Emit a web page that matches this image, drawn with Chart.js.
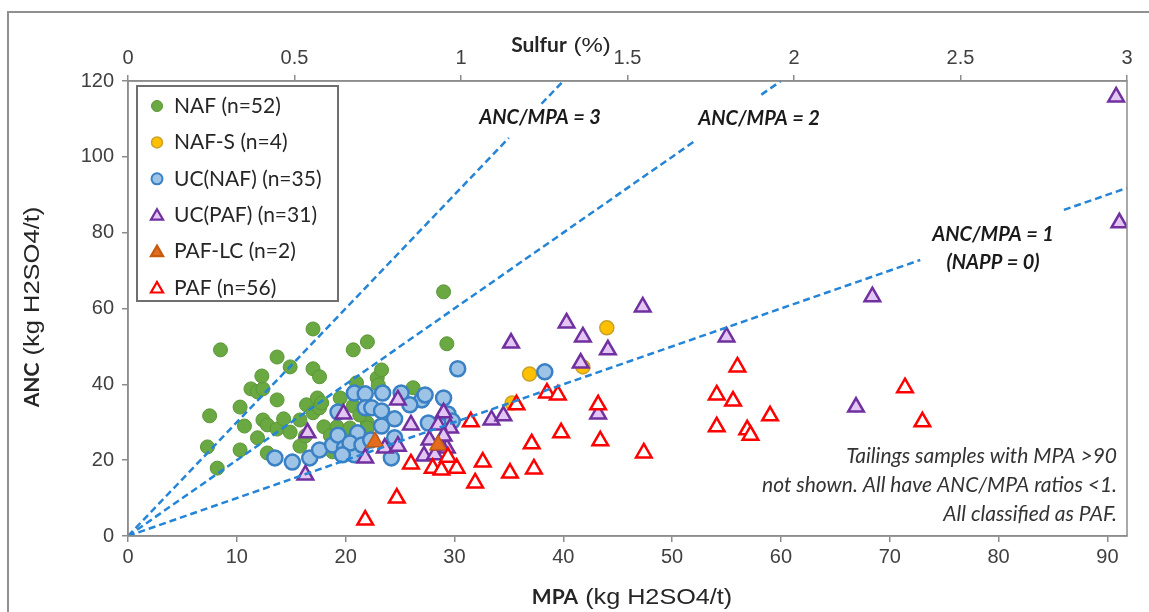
<!DOCTYPE html>
<html>
<head>
<meta charset="utf-8">
<script src="https://cdn.jsdelivr.net/npm/chart.js@4.4.0/dist/chart.umd.min.js"></script>
<style>
  html, body { margin: 0; padding: 0; background: #fff; }
  #wrap { width: 1149px; height: 612px; }
</style>
</head>
<body>
<div id="wrap"><canvas id="myChart" width="1149" height="612"></canvas></div>
<script>
// MPA (kg H2SO4/t), ANC (kg H2SO4/t) pairs
const nafPoints = [
  [7.3, 23.5], [8.2, 17.9], [8.5, 49.1], [10.3, 34.0], [10.3, 22.7], [10.7, 29.0],
  [11.3, 38.8], [11.9, 38.0], [12.4, 38.8], [11.9, 25.9], [12.3, 42.2], [12.4, 30.6],
  [12.8, 29.3], [12.8, 21.9], [13.7, 47.2], [13.7, 35.9], [13.7, 28.2], [14.3, 30.9],
  [14.9, 44.6], [15.8, 30.6], [15.8, 23.7], [16.4, 34.6], [17.0, 54.6], [17.0, 44.1],
  [17.6, 42.0], [17.0, 32.5], [17.4, 36.4], [17.6, 33.8], [18.0, 28.8], [18.8, 22.2],
  [19.2, 28.8], [20.4, 28.5], [20.7, 49.1], [20.7, 34.3], [21.0, 40.4], [22.0, 51.2],
  [22.0, 29.8], [22.0, 28.5], [22.9, 41.7], [23.3, 43.8], [26.2, 39.1], [29.0, 64.4],
  [29.3, 50.7], [7.5, 31.7], [17.8, 35.1], [18.6, 26.4], [19.9, 25.3], [14.9, 27.4],
  [21.3, 31.9], [19.5, 36.4], [23.0, 39.8], [16.3, 26.4]
];
const nafSPoints = [[44.0, 54.9], [36.9, 42.7], [41.8, 44.6], [35.3, 35.1]];
const ucNafPoints = [
  [13.5, 20.6], [15.1, 19.5], [16.7, 20.6], [17.6, 22.7], [18.8, 24.0], [19.3, 32.7],
  [19.3, 26.6], [19.9, 23.2], [20.4, 21.9], [20.8, 21.4], [20.8, 37.7], [21.8, 37.5],
  [21.1, 27.2], [21.8, 33.8], [22.4, 33.8], [23.3, 33.0], [23.4, 37.7], [23.3, 29.0],
  [24.5, 30.9], [24.5, 25.9], [24.2, 20.6], [25.1, 37.7], [27.0, 35.9], [27.3, 37.2],
  [27.6, 29.8], [29.0, 36.4], [29.4, 32.2], [30.3, 44.1], [38.3, 43.3], [20.4, 24.5],
  [21.5, 24.0], [25.9, 34.6], [19.7, 21.4], [29.8, 30.3], [22.3, 25.3]
];
const ucPafPoints = [
  [90.8, 115.8], [91.1, 82.6], [68.4, 63.1], [66.9, 34.0], [55.0, 52.5], [47.3, 60.4],
  [40.3, 56.2], [41.8, 52.5], [44.1, 49.1], [35.2, 50.9], [41.6, 45.6], [43.2, 32.2],
  [33.4, 30.6], [34.5, 31.7], [29.0, 32.5], [29.6, 28.5], [29.3, 23.2], [16.5, 27.2],
  [19.8, 32.2], [16.3, 16.1], [24.8, 35.9], [26.0, 29.3], [28.5, 29.3], [21.8, 20.6],
  [23.6, 23.2], [24.8, 23.7], [27.2, 21.1], [28.2, 21.4], [28.7, 24.0], [29.0, 26.4],
  [27.7, 25.3]
];
const pafLcPoints = [[22.7, 24.8], [28.5, 24.0]];
const pafPoints = [
  [21.8, 4.2], [24.7, 10.0], [26.0, 19.0], [28.0, 17.9], [28.8, 17.4], [30.2, 17.9],
  [29.4, 20.8], [31.5, 30.1], [32.6, 19.5], [31.9, 14.0], [35.1, 16.6], [37.1, 24.3],
  [37.3, 17.7], [35.7, 34.6], [38.5, 37.7], [39.5, 37.2], [39.8, 27.2], [43.2, 34.6],
  [43.4, 25.1], [47.4, 21.9], [54.1, 37.2], [56.0, 44.6], [55.6, 35.6], [54.1, 28.8],
  [56.9, 28.0], [57.2, 26.6], [59.0, 31.7], [71.4, 39.1], [73.0, 30.1]
];

// ANC/MPA ratio lines, split where the labels sit
const ratio3Segments = [[[0, 0], [35, 105]], [[38, 114], [40, 120]]];
const ratio2Segments = [[[0, 0], [52.1, 104.2]], [[58.2, 116.4], [60, 120]]];
const ratio1Segments = [[[0, 0], [72.8, 72.8]], [[86, 86], [91.8, 91.8]]];

const mpaTicks = [0, 10, 20, 30, 40, 50, 60, 70, 80, 90];
const ancTicks = [0, 20, 40, 60, 80, 100, 120];
const sulfurTicks = [0, 0.5, 1, 1.5, 2, 2.5, 3];

const seriesLabels = ["NAF (n=52)", "NAF-S (n=4)", "UC(NAF) (n=35)", "UC(PAF) (n=31)", "PAF-LC (n=2)", "PAF (n=56)"];

const toXY = (arr) => arr.map(p => ({ x: p[0], y: p[1] }));

const pointSeries = [
  { data: nafPoints, style: "circle", r: 7, fill: "#6aa842", stroke: "#5b9638", bw: 1 },
  { data: nafSPoints, style: "circle", r: 7, fill: "#ffc000", stroke: "#c9a227", bw: 1.5 },
  { data: ucNafPoints, style: "circle", r: 7.5, fill: "#9dc3e6", stroke: "#3a80c4", bw: 2.5 },
  { data: ucPafPoints, style: "triangle", r: 9, fill: "#e3c6f4", stroke: "#7030a0", bw: 2.5 },
  { data: pafLcPoints, style: "triangle", r: 9.5, fill: "#e46c1e", stroke: "#c55a11", bw: 1.5 },
  { data: pafPoints, style: "triangle", r: 9, fill: "#ffffff", stroke: "#ff0000", bw: 2.5 }
];

const datasets = [];
pointSeries.forEach((s, i) => {
  datasets.push({
    label: seriesLabels[i],
    data: toXY(s.data),
    pointStyle: s.style,
    pointRadius: s.r,
    pointHoverRadius: s.r,
    backgroundColor: s.fill,
    borderColor: s.stroke,
    borderWidth: s.bw,
    order: 10 - i
  });
});
[ratio3Segments, ratio2Segments, ratio1Segments].forEach(segs => {
  segs.forEach(seg => {
    datasets.push({
      label: "",
      data: toXY(seg),
      showLine: true,
      pointRadius: 0,
      borderColor: "#2484d6",
      borderWidth: 2.5,
      borderDash: [7, 4],
      fill: false,
      order: 0
    });
  });
});

const tickFont = { family: "'Liberation Sans', Arial", size: 20 };
const axisGray = "#8c8c8c";

function fixTicks(list) {
  return function (scale) { scale.ticks = list.map(v => ({ value: v })); };
}

const decorPlugin = {
  id: "decor",
  beforeDraw(chart) {
    const ctx = chart.ctx;
    ctx.save();
    ctx.fillStyle = "#fff";
    ctx.fillRect(0, 0, chart.width, chart.height);
    ctx.restore();
  },
  afterDraw(chart) {
    const ctx = chart.ctx;
    const a = chart.chartArea;
    ctx.save();

    // outer frame
    ctx.strokeStyle = "#909090";
    ctx.lineWidth = 2;
    ctx.strokeRect(8, 12, 1200, 700);

    // plot frame
    ctx.strokeStyle = axisGray;
    ctx.lineWidth = 1.5;
    ctx.strokeRect(a.left, a.top, a.right - a.left, a.bottom - a.top);

    // legend
    ctx.fillStyle = "#fff";
    ctx.fillRect(137, 86, 201, 215);
    ctx.strokeStyle = "#6f6f6f";
    ctx.lineWidth = 2;
    ctx.strokeRect(137, 86, 201, 215);
    ctx.font = "21px Lato";
    ctx.textBaseline = "middle";
    ctx.textAlign = "left";
    pointSeries.forEach((s, i) => {
      const y = 106 + i * 36.4;
      ctx.fillStyle = s.fill;
      ctx.strokeStyle = s.stroke;
      ctx.lineWidth = s.style === "triangle" ? 2.2 : Math.min(s.bw, 2);
      Chart.helpers.drawPoint(ctx, { pointStyle: s.style, radius: s.style === "triangle" ? 7 : 5.5, rotation: 0, borderWidth: ctx.lineWidth }, 157, y + (s.style === "triangle" ? 1 : 0));
      ctx.fillStyle = "#262626";
      ctx.fillText(seriesLabels[i], 174, y);
    });

    // ratio labels
    ctx.fillStyle = "#1a1a1a";
    ctx.textAlign = "center";
    ctx.font = "italic bold 20px Lato";
    ctx.fillText("ANC/MPA = 3", 540, 118);
    ctx.fillText("ANC/MPA = 2", 759, 119);
    ctx.fillText("ANC/MPA = 1", 993, 235);
    ctx.fillText("(NAPP = 0)", 993, 263);

    // note
    ctx.fillStyle = "#333";
    ctx.textAlign = "right";
    ctx.font = "italic 21px Lato";
    ctx.fillText("Tailings samples with MPA >90", 1117, 456);
    ctx.fillText("not shown. All have ANC/MPA ratios <1.", 1117, 485);
    ctx.fillText("All classified as PAF.", 1117, 514);

    // axis titles: bold lead word, condensed remainder squeezed to restW
    function mixedTitle(boldTxt, restTxt, cx, cy, rotate, restW, restSize) {
      ctx.save();
      ctx.translate(cx, cy);
      if (rotate) ctx.rotate(-Math.PI / 2);
      ctx.textAlign = "left";
      ctx.textBaseline = "middle";
      ctx.fillStyle = "#262626";
      const bf = "bold 21px Lato";
      const rf = restSize + "px 'Liberation Sans'";
      ctx.font = bf;
      const w1 = ctx.measureText(boldTxt).width;
      ctx.font = rf;
      const natural = ctx.measureText(restTxt).width;
      const sx = restW / natural;
      const x0 = -(w1 + restW) / 2;
      ctx.font = bf;
      ctx.fillText(boldTxt, x0, 0);
      ctx.font = rf;
      ctx.translate(x0 + w1, 0);
      ctx.scale(sx, 1);
      ctx.fillText(restTxt, 0, 1);
      ctx.restore();
    }
    mixedTitle("MPA", " (kg H2SO4/t)", 632, 597, false, 154, 22);
    mixedTitle("ANC", " (kg H2SO4/t)", 32, 307, true, 156, 22);
    mixedTitle("Sulfur", " (%)", 561, 45, false, 44, 20);

    ctx.restore();
  }
};

const ctx = document.getElementById("myChart");
new Chart(ctx, {
  type: "scatter",
  data: { datasets: datasets },
  options: {
    responsive: false,
    animation: false,
    devicePixelRatio: 1,
    layout: { padding: { left: 0, right: 22, top: 0, bottom: 0 } },
    plugins: {
      legend: { display: false },
      tooltip: { enabled: false }
    },
    scales: {
      x: {
        type: "linear",
        position: "bottom",
        min: 0,
        max: 91.8,
        afterBuildTicks: fixTicks(mpaTicks),
        afterFit: (s) => { s.height = 76; },
        ticks: { font: tickFont, color: "#404040", padding: 3, maxRotation: 0, callback: (v) => String(v) },
        grid: { drawOnChartArea: false, drawTicks: true, tickLength: 6, color: axisGray, lineWidth: 1.5 },
        border: { display: true, color: axisGray, width: 1.5 }
      },
      xTop: {
        type: "linear",
        position: "top",
        min: 0,
        max: 3,
        afterBuildTicks: fixTicks(sulfurTicks),
        afterFit: (s) => { s.height = 81; },
        ticks: { font: tickFont, color: "#404040", padding: 5, maxRotation: 0, callback: (v) => String(v) },
        grid: { drawOnChartArea: false, drawTicks: true, tickLength: 6, color: axisGray, lineWidth: 1.5 },
        border: { display: true, color: axisGray, width: 1.5 }
      },
      y: {
        type: "linear",
        min: 0,
        max: 120,
        afterBuildTicks: fixTicks(ancTicks),
        afterFit: (s) => { s.width = 128; },
        ticks: { font: tickFont, color: "#404040", padding: 8, callback: (v) => String(v) },
        grid: { drawOnChartArea: false, drawTicks: true, tickLength: 6, color: axisGray, lineWidth: 1.5 },
        border: { display: true, color: axisGray, width: 1.5 }
      }
    }
  },
  plugins: [decorPlugin]
});
</script>
</body>
</html>
